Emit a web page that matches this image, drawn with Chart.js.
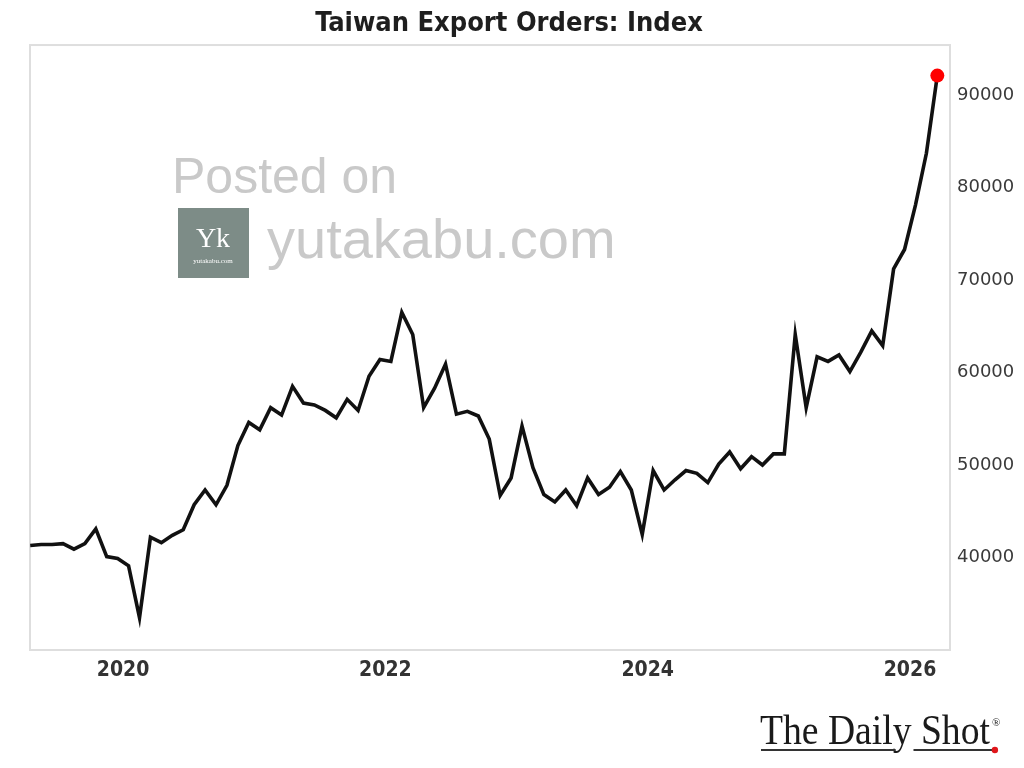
<!DOCTYPE html>
<html>
<head>
<meta charset="utf-8">
<title>Taiwan Export Orders: Index</title>
<script src="https://cdn.jsdelivr.net/npm/chart.js@4.4.1/dist/chart.umd.min.js"></script>
<style>
  html, body { margin: 0; padding: 0; background: #fff; }
  #wrap { width: 1024px; height: 768px; }
</style>
</head>
<body>
<div id="wrap"><canvas id="ordersChart"></canvas></div>
<script>
// Taiwan export orders index, monthly, Apr 2019 - Mar 2026
const firstYear = 2019;
const firstMonth = 4;
const orderIndex = [
    41300, 41400, 41400, 41500, 40900, 41500, 43100, 40100, 39900,            // 2019 (Apr-Dec)
    39100, 33500, 42200, 41600, 42400, 43000, 45700, 47300, 45700, 47800, 52100, 54600, // 2020
    53800, 56200, 55400, 58500, 56700, 56500, 55900, 55100, 57100, 55900, 59600, 61400, // 2021
    61200, 66500, 64100, 56200, 58300, 60900, 55500, 55800, 55300, 52800, 46700, 48600, // 2022
    54200, 49700, 46800, 46000, 47300, 45600, 48600, 46800, 47600, 49300, 47300, 42500, // 2023
    49400, 47300, 48400, 49400, 49100, 48100, 50100, 51400, 49600, 50900, 50000, 51200, // 2024
    51200, 64100, 56200, 61700, 61200, 61900, 60100, 62200, 64500, 62900, 71200, 73300, // 2025
    78100, 83700, 92100                                                         // 2026 (Jan-Mar)
];
const xTickYears = [2020, 2022, 2024, 2026];
const yTickValues = [40000, 50000, 60000, 70000, 80000, 90000];

// month labels like '2019-04', built from the start month
const monthLabels = orderIndex.map((_, i) => {
    const m = firstMonth - 1 + i;
    return (firstYear + Math.floor(m / 12)) + '-' + String(m % 12 + 1).padStart(2, '0');
});
// each month is plotted at its middle
const points = monthLabels.map((lab, i) => ({
    x: Number(lab.slice(0, 4)) + (Number(lab.slice(5)) - 0.5) / 12,
    y: orderIndex[i]
}));
const lastIdx = points.length - 1;

const condensed = '"DejaVu Sans Condensed", "Liberation Sans Narrow", "DejaVu Sans", sans-serif';

// light grey box round the plot
const framePlugin = {
    id: 'frame',
    beforeDatasetsDraw(chart) {
        const { ctx, chartArea: a } = chart;
        ctx.save();
        ctx.strokeStyle = '#dedede';
        ctx.lineWidth = 2;
        ctx.strokeRect(a.left, a.top, a.right - a.left, a.bottom - a.top);
        ctx.restore();
    }
};

// "Posted on" watermark and the Daily Shot logo
const extrasPlugin = {
    id: 'extras',
    afterDraw(chart) {
        const ctx = chart.ctx;
        ctx.save();
        ctx.fillStyle = '#c9c9c9';
        ctx.textBaseline = 'alphabetic';
        ctx.font = '50px "Liberation Sans", Arial, sans-serif';
        ctx.fillText('Posted on', 172, 193);
        ctx.font = '56px "Liberation Sans", Arial, sans-serif';
        ctx.fillText('yutakabu.com', 267, 258);

        ctx.fillStyle = '#7d8c87';
        ctx.fillRect(178, 208, 71, 70);
        ctx.fillStyle = '#ffffff';
        ctx.textAlign = 'center';
        ctx.font = '28px "Liberation Serif", serif';
        ctx.fillText('Yk', 213, 247);
        ctx.font = '7px "Liberation Serif", serif';
        ctx.fillText('yutakabu.com', 213, 263);

        // logo text, squeezed horizontally
        ctx.textAlign = 'left';
        ctx.fillStyle = '#1a1a1a';
        const sx = 0.875, x0 = 760, base = 744;
        ctx.font = '43px "Liberation Serif", "DejaVu Serif", serif';
        const brand = 'The Daily Shot';
        const full = ctx.measureText(brand).width * sx;
        const beforeY = ctx.measureText('The Dail').width * sx;
        const afterY = ctx.measureText('The Daily').width * sx;
        ctx.save();
        ctx.translate(x0, base);
        ctx.scale(sx, 1);
        ctx.fillText(brand, 0, 0);
        ctx.restore();
        ctx.font = '11px "Liberation Serif", serif';
        ctx.fillText('®', x0 + full + 2, 726);
        ctx.strokeStyle = '#333';
        ctx.lineWidth = 2;
        ctx.beginPath();
        ctx.moveTo(x0 + 1, 750);
        ctx.lineTo(x0 + beforeY + 3, 750);
        ctx.moveTo(x0 + afterY + 2, 750);
        ctx.lineTo(x0 + full + 3, 750);
        ctx.stroke();
        ctx.fillStyle = '#e0161b';
        ctx.beginPath();
        ctx.arc(x0 + full + 5, 750, 3.2, 0, Math.PI * 2);
        ctx.fill();
        ctx.restore();
    }
};

new Chart(document.getElementById('ordersChart'), {
    type: 'line',
    data: {
        datasets: [{
            label: 'Taiwan Export Orders',
            data: points,
            xAxisID: 'x',
            yAxisID: 'y',
            borderColor: '#111111',
            borderWidth: 3.6,
            tension: 0,
            fill: false,
            pointRadius: ctx => ctx.dataIndex === lastIdx ? 7 : 0,
            pointHoverRadius: 0,
            pointBackgroundColor: '#ff0000',
            pointBorderWidth: 0
        }]
    },
    options: {
        responsive: true,
        maintainAspectRatio: false,
        animation: false,
        layout: { padding: { left: 0, right: 6, top: 0, bottom: 0 } },
        plugins: {
            legend: { display: false },
            tooltip: { enabled: false },
            title: {
                display: true,
                text: 'Taiwan Export Orders: Index',
                color: '#1e1e1e',
                font: { family: condensed, size: 27, weight: 'bold', lineHeight: 1.15 },
                padding: { top: 8, bottom: 6 }
            }
        },
        scales: {
            x: {
                type: 'linear',
                min: 2019.29,
                max: 2026.305,
                grid: { display: false, drawTicks: false },
                border: { display: false },
                afterBuildTicks: scale => {
                    scale.ticks = xTickYears.map(v => ({ value: v }));
                },
                afterFit: scale => { scale.height = 118; },
                ticks: {
                    padding: 8,
                    color: '#333333',
                    font: { family: condensed, size: 21, weight: 'bold' },
                    callback: value => String(value)
                }
            },
            y: {
                position: 'right',
                min: 30000,
                max: 95400,
                grid: { display: false, drawTicks: false },
                border: { display: false },
                afterBuildTicks: scale => {
                    scale.ticks = yTickValues.map(v => ({ value: v }));
                },
                afterFit: scale => { scale.width = 68; },
                ticks: {
                    padding: 7,
                    color: '#3a3a3a',
                    font: { family: '"DejaVu Sans", sans-serif', size: 18 },
                    callback: value => String(value)
                }
            },
            // empty axis on the left, only keeps a 30px margin
            leftGap: {
                position: 'left',
                grid: { display: false, drawTicks: false },
                border: { display: false },
                ticks: { display: false },
                afterFit: scale => { scale.width = 30; }
            }
        }
    },
    plugins: [framePlugin, extrasPlugin]
});
</script>
</body>
</html>
